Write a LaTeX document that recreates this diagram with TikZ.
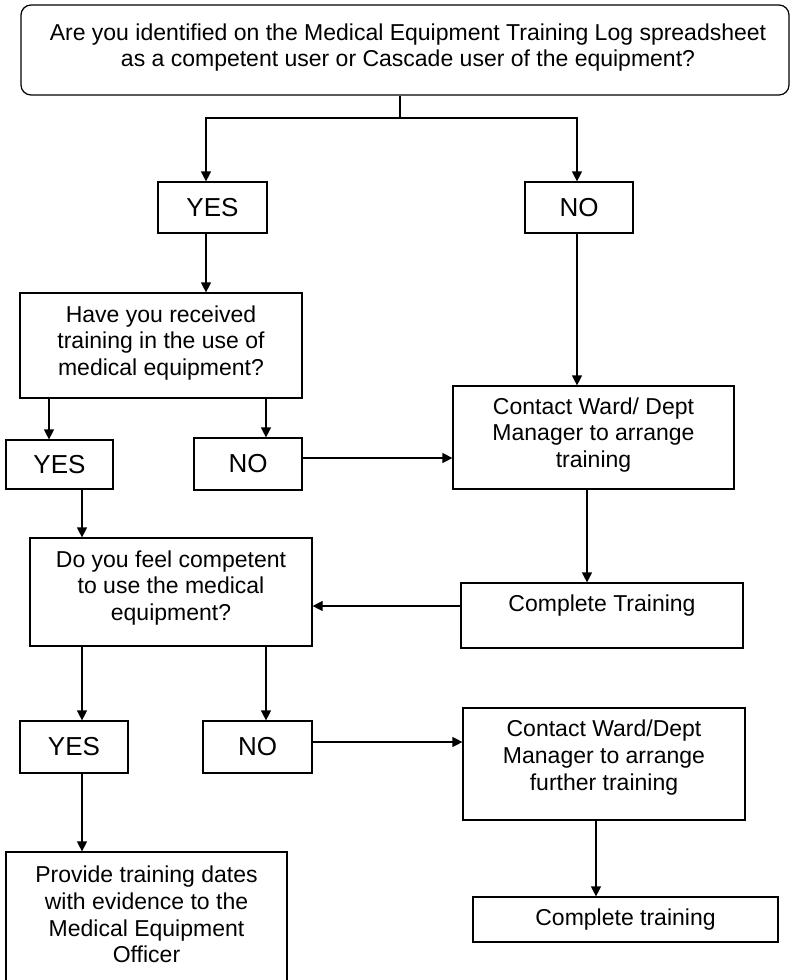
\documentclass[tikz,border=0pt]{standalone}
\usepackage{fontspec}
\setmainfont{Liberation Sans}
\usetikzlibrary{arrows.meta}

\begin{document}
\begin{tikzpicture}[x=1pt, y=-1pt,
  box/.style={draw, line width=1.2pt, inner sep=0pt, rectangle},
  txt/.style={inner sep=0pt, align=center, font=\fontsize{23}{26.8}\selectfont},
  ans/.style={box, font=\fontsize{26}{30}\selectfont},
  link/.style={line width=1.2pt},
  arr/.style={line width=1.2pt, -{Triangle[length=10pt,width=10pt]}}]
\useasboundingbox (0,0) rectangle (790,980);
\clip (0,0) rectangle (790,980);

% question and answer boxes
\node[box, rounded corners=10pt, minimum width=768pt, minimum height=90pt] (top) at (405,50) {};
\node[txt] (ttop) at (408,47.5) {Are you identified on the Medical Equipment Training Log spreadsheet\\as a competent user or Cascade user of the equipment?};

\node[ans, minimum width=109pt, minimum height=51pt] (yes1) at (212.5,207.5) {YES};
\node[ans, minimum width=108pt, minimum height=51pt] (no1) at (579,207.5) {NO};

\node[box, minimum width=282pt, minimum height=105pt] (q2) at (161,345.5) {};
\node[txt] (tq2) at (161,343) {Have you received\\training in the use of\\medical equipment?};

\node[ans, minimum width=107pt, minimum height=49pt] (yes2) at (59.5,464.5) {YES};
\node[ans, minimum width=108pt, minimum height=52pt] (no2) at (248,464) {NO};

\node[box, minimum width=281pt, minimum height=103pt] (contact1) at (593.5,437.5) {};
\node[txt] (tcontact1) at (593.5,435) {Contact Ward/ Dept\\Manager to arrange\\training};

\node[box, minimum width=282pt, minimum height=108pt] (q3) at (171,592) {};
\node[txt] (tq3) at (171,588) {Do you feel competent\\to use the medical\\equipment?};

\node[box, minimum width=282pt, minimum height=65pt] (complete1) at (602,615.5) {};
\node[txt] (tcomplete1) at (602,606) {Complete Training};

\node[ans, minimum width=108pt, minimum height=52pt] (yes3) at (74,747) {YES};
\node[ans, minimum width=109pt, minimum height=52pt] (no3) at (257.5,747) {NO};

\node[box, minimum width=282pt, minimum height=112pt] (contact2) at (604,764) {};
\node[txt] (tcontact2) at (604,757.5) {Contact Ward/Dept\\Manager to arrange\\further training};

\node[box, minimum width=281pt, minimum height=148pt] (provide) at (146.5,926) {};
\node[txt] (tprovide) at (146.5,914.5) {Provide training dates\\with evidence to the\\Medical Equipment\\Officer};

\node[box, minimum width=305pt, minimum height=45pt, font=\fontsize{23}{26.8}\selectfont] (complete2) at (625.5,919.5) {Complete training};

% routing points
\coordinate (split) at (400,118);
\coordinate (jL) at (206,118);
\coordinate (jR) at (577,118);
\coordinate (xq2y) at (49,0);
\coordinate (xq2n) at (266,0);
\coordinate (yno2) at (0,458);
\coordinate (xc1) at (587,0);
\coordinate (yc1) at (0,606);
\coordinate (xq3y) at (82,0);
\coordinate (xq3n) at (266,0);
\coordinate (yno3) at (0,742);
\coordinate (xc2) at (596,0);

% connectors
\draw[link] (top.south -| split) -- (split);
\draw[arr] (split) -- (jL) -- (jL |- yes1.north);
\draw[arr] (split) -- (jR) -- (jR |- no1.north);
\draw[arr] (jL |- yes1.south) -- (jL |- q2.north);
\draw[arr] (jR |- no1.south) -- (jR |- contact1.north);
\draw[arr] (xq2y |- q2.south) -- (xq2y |- yes2.north);
\draw[arr] (xq2n |- q2.south) -- (xq2n |- no2.north);
\draw[arr] (no2.east |- yno2) -- (contact1.west |- yno2);
\draw[arr] (xc1 |- contact1.south) -- (xc1 |- complete1.north);
\draw[arr] (complete1.west |- yc1) -- (q3.east |- yc1);
\draw[arr] (xq3y |- yes2.south) -- (xq3y |- q3.north);
\draw[arr] (xq3y |- q3.south) -- (xq3y |- yes3.north);
\draw[arr] (xq3n |- q3.south) -- (xq3n |- no3.north);
\draw[arr] (no3.east |- yno3) -- (contact2.west |- yno3);
\draw[arr] (xq3y |- yes3.south) -- (xq3y |- provide.north);
\draw[arr] (xc2 |- contact2.south) -- (xc2 |- complete2.north);
\end{tikzpicture}
\end{document}
